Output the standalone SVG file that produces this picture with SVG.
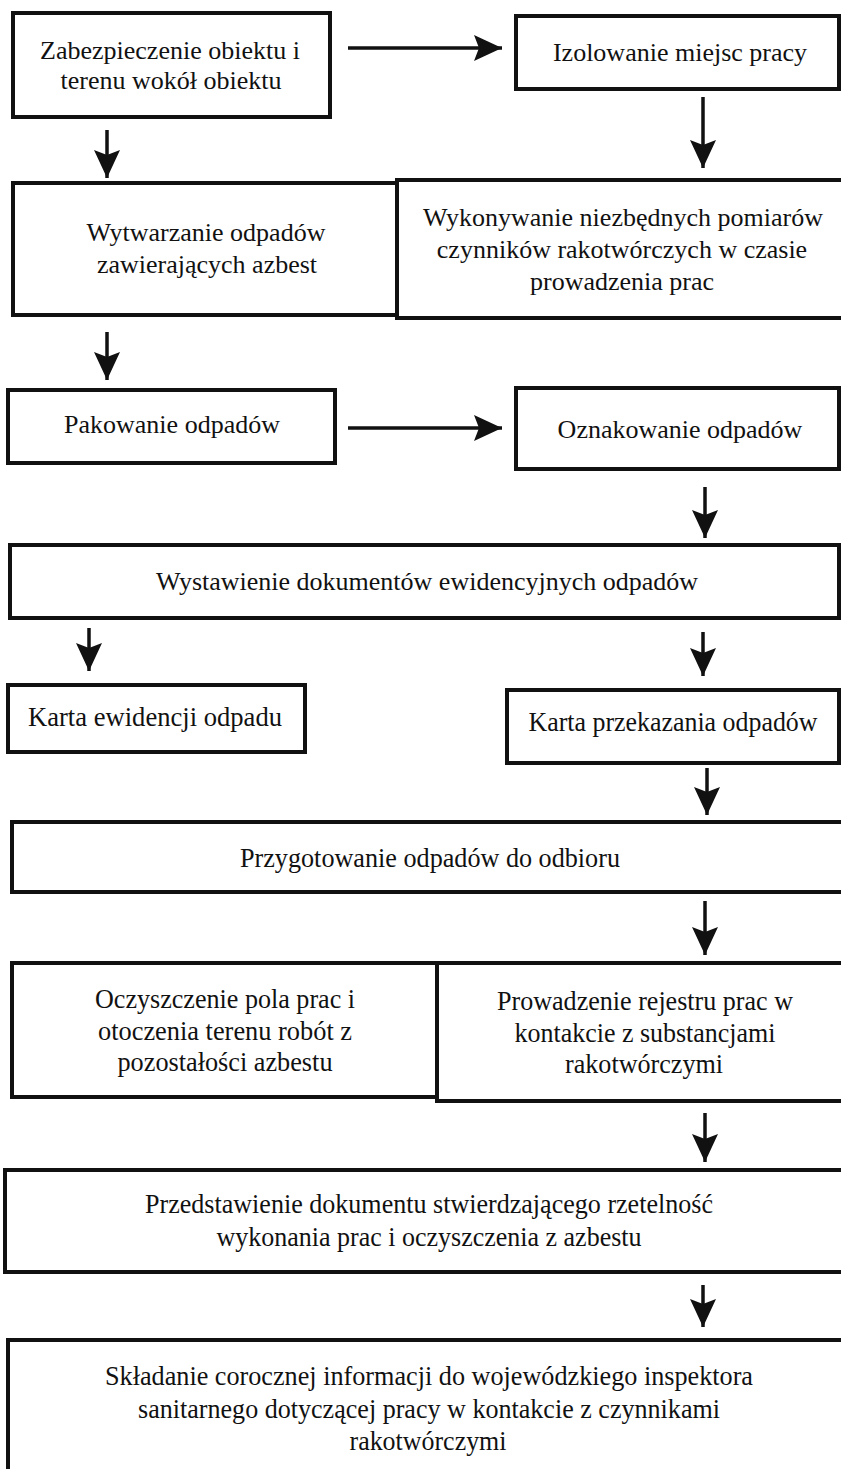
<svg xmlns="http://www.w3.org/2000/svg" width="841" height="1469" viewBox="0 0 841 1469">
<style>
.box{fill:#fff;stroke:#111;stroke-width:4}
.t{font-family:"Liberation Serif","Times New Roman",serif;font-size:26px;fill:#111;text-anchor:middle}
.c{font-family:"Liberation Serif","Times New Roman",serif;font-size:28px;fill:#111;text-anchor:middle}
.ln{stroke:#111;stroke-width:3.5;fill:none;marker-end:url(#ah)}
</style>
<defs>
<marker id="ah" markerUnits="userSpaceOnUse" markerWidth="32" markerHeight="32" viewBox="-30 -15 32 30" refX="0" refY="0" orient="auto">
<path d="M0,0 L-28,-13 L-23,0 L-28,13 Z" fill="#111"/>
</marker>
</defs>
<rect width="841" height="1469" fill="#fff"/>
<g id="connectors">
<line class="ln" x1="348" y1="48" x2="502" y2="48"/>
<line class="ln" x1="107" y1="130" x2="107" y2="178"/>
<line class="ln" x1="703" y1="97" x2="703" y2="168"/>
<line class="ln" x1="107" y1="332" x2="107" y2="380"/>
<line class="ln" x1="348" y1="428" x2="502" y2="428"/>
<line class="ln" x1="705" y1="487" x2="705" y2="538"/>
<line class="ln" x1="89" y1="628" x2="89" y2="671"/>
<line class="ln" x1="703" y1="632" x2="703" y2="676"/>
<line class="ln" x1="707" y1="768" x2="707" y2="815"/>
<line class="ln" x1="705" y1="901" x2="705" y2="955"/>
<line class="ln" x1="705" y1="1113" x2="705" y2="1162"/>
<line class="ln" x1="703" y1="1285" x2="703" y2="1327"/>
</g>
<g id="n1"><rect class="box" x="13" y="13" width="317" height="104"/>
<text class="t" x="170" y="59">Zabezpieczenie obiektu i</text>
<text class="t" x="171" y="89">terenu wokół obiektu</text></g>
<g id="n2"><rect class="box" x="516" y="16" width="323" height="73"/>
<text class="t" x="680" y="61">Izolowanie miejsc pracy</text></g>
<g id="n3"><rect class="box" x="13" y="183" width="384" height="132"/>
<text class="t" x="206" y="241">Wytwarzanie odpadów</text>
<text class="t" x="207" y="273">zawierających azbest</text></g>
<g id="n4"><rect class="box" x="397" y="180" width="450" height="138"/>
<text class="t" x="623" y="226">Wykonywanie niezbędnych pomiarów</text>
<text class="t" x="622" y="258">czynników rakotwórczych w czasie</text>
<text class="t" x="622" y="290">prowadzenia prac</text></g>
<g id="n5"><rect class="box" x="8" y="390" width="327" height="73"/>
<text class="t" x="172" y="433">Pakowanie odpadów</text></g>
<g id="n6"><rect class="box" x="516" y="388" width="323" height="81"/>
<text class="t" x="680" y="438">Oznakowanie odpadów</text></g>
<g id="n7"><rect class="box" x="10" y="545" width="829" height="73"/>
<text class="t" x="427" y="590">Wystawienie dokumentów ewidencyjnych odpadów</text></g>
<g id="n8"><rect class="box" x="8" y="685" width="297" height="67"/>
<text class="c" x="155" y="726" textLength="254" lengthAdjust="spacingAndGlyphs">Karta ewidencji odpadu</text></g>
<g id="n9"><rect class="box" x="507" y="690" width="332" height="73"/>
<text class="c" x="673" y="731" textLength="289" lengthAdjust="spacingAndGlyphs">Karta przekazania odpadów</text></g>
<g id="n10"><rect class="box" x="12" y="822" width="835" height="70"/>
<text class="c" x="430" y="867" textLength="380" lengthAdjust="spacingAndGlyphs">Przygotowanie odpadów do odbioru</text></g>
<g id="n11"><rect class="box" x="12" y="963" width="425" height="134"/>
<text class="c" x="225" y="1008" textLength="260" lengthAdjust="spacingAndGlyphs">Oczyszczenie pola prac i</text>
<text class="c" x="225" y="1040" textLength="254" lengthAdjust="spacingAndGlyphs">otoczenia terenu robót z</text>
<text class="c" x="225" y="1071" textLength="215" lengthAdjust="spacingAndGlyphs">pozostałości azbestu</text></g>
<g id="n12"><rect class="box" x="437" y="963" width="410" height="138"/>
<text class="c" x="645" y="1010" textLength="296" lengthAdjust="spacingAndGlyphs">Prowadzenie rejestru prac w</text>
<text class="c" x="645" y="1042" textLength="261" lengthAdjust="spacingAndGlyphs">kontakcie z substancjami</text>
<text class="c" x="644" y="1073" textLength="158" lengthAdjust="spacingAndGlyphs">rakotwórczymi</text></g>
<g id="n13"><rect class="box" x="5" y="1170" width="842" height="102"/>
<text class="c" x="429" y="1213" textLength="568" lengthAdjust="spacingAndGlyphs">Przedstawienie dokumentu stwierdzającego rzetelność</text>
<text class="c" x="429" y="1246" textLength="425" lengthAdjust="spacingAndGlyphs">wykonania prac i oczyszczenia z azbestu</text></g>
<g id="n14"><rect class="box" x="8" y="1340" width="839" height="150"/>
<text class="c" x="429" y="1385" textLength="648" lengthAdjust="spacingAndGlyphs">Składanie corocznej informacji do wojewódzkiego inspektora</text>
<text class="c" x="429" y="1418" textLength="582" lengthAdjust="spacingAndGlyphs">sanitarnego dotyczącej pracy w kontakcie z czynnikami</text>
<text class="c" x="428" y="1450" textLength="157" lengthAdjust="spacingAndGlyphs">rakotwórczymi</text></g>
</svg>
